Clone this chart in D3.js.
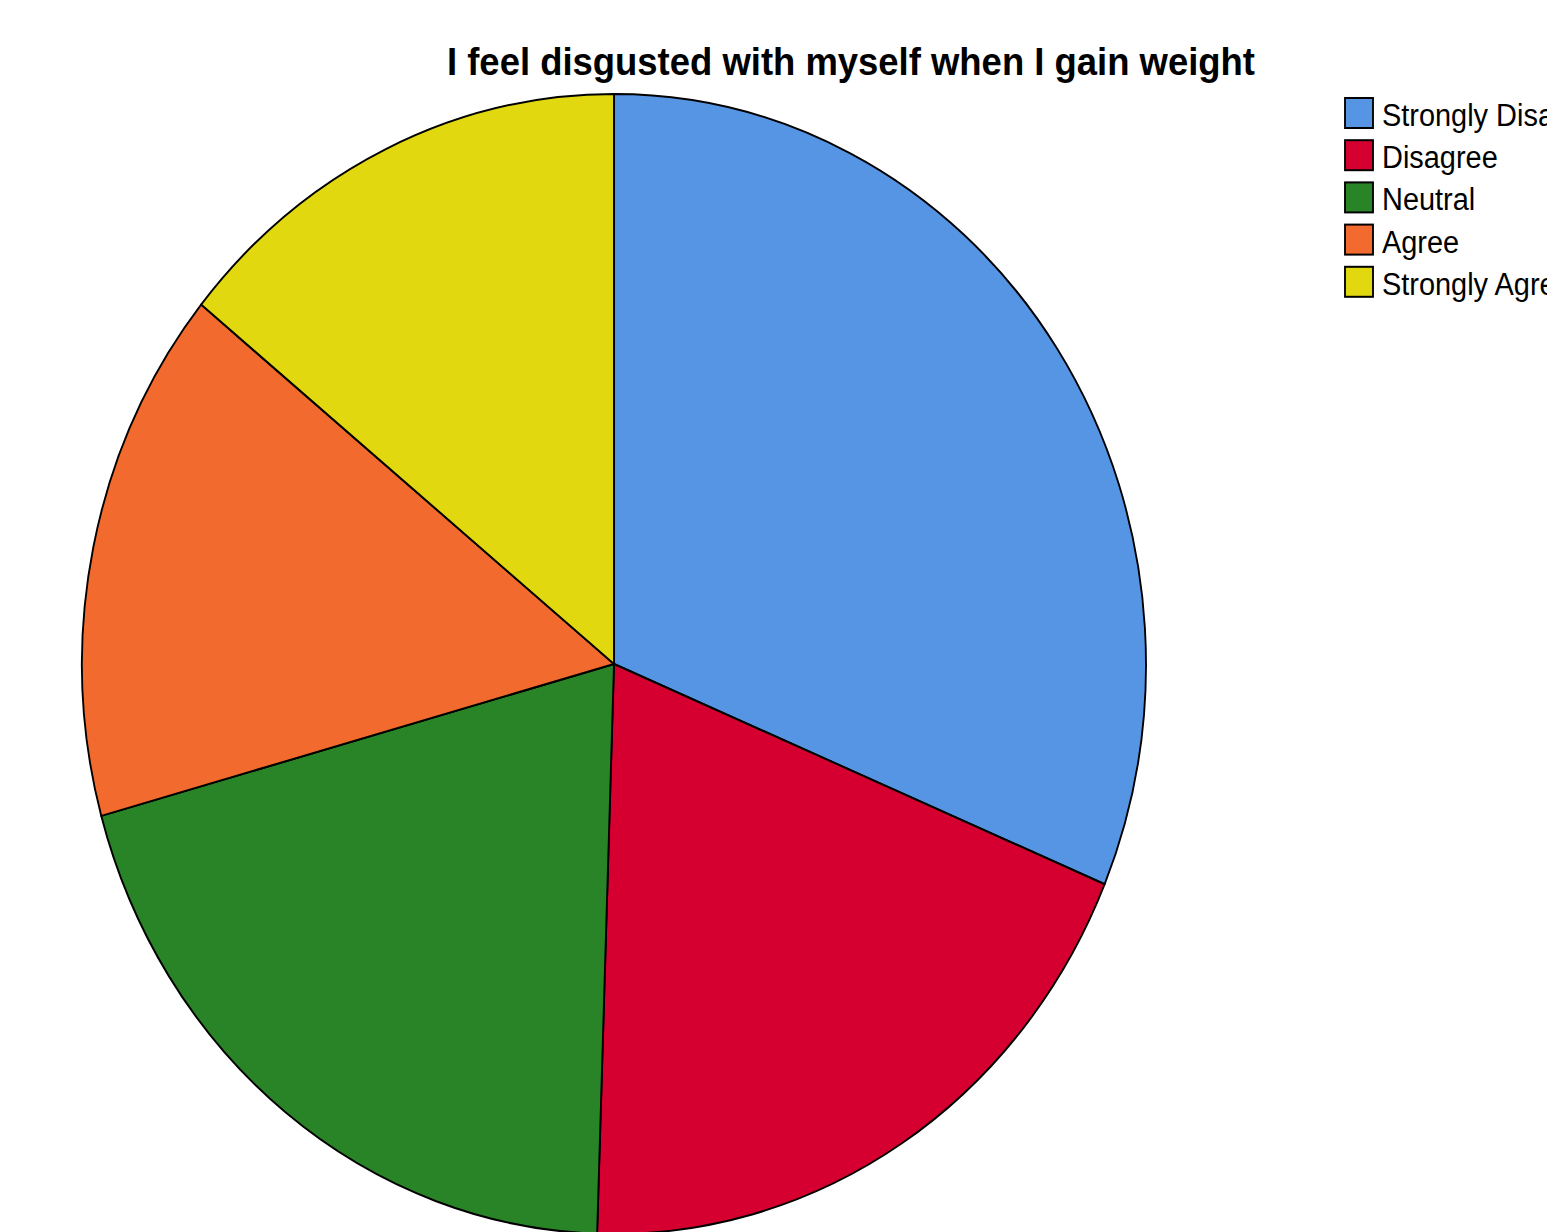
<!DOCTYPE html>
<html>
<head>
<meta charset="utf-8">
<script src="https://cdn.jsdelivr.net/npm/d3@7/dist/d3.min.js"></script>
<style>
  html, body { margin: 0; padding: 0; background: #fff; overflow: hidden; }
  svg { display: block; }
</style>
</head>
<body>
<svg id="chart" width="1547" height="1232"></svg>
<script>
// Response categories and counts
const categories = ["Strongly Disagree", "Disagree", "Neutral", "Agree", "Strongly Agree"];
const counts = [31, 19, 20, 15, 14];
const colors = ["#5595e3", "#d5002f", "#298428", "#f26a2d", "#e2d80f"];
const title = "I feel disgusted with myself when I gain weight";

const svg = d3.select("#chart");
const sx = 0.9333; // horizontal squeeze of the whole chart area

const g = svg.append("g").attr("transform", `scale(${sx},1)`);

// Title
g.append("text")
  .attr("x", 851 / sx)
  .attr("y", 75)
  .attr("text-anchor", "middle")
  .attr("font-family", "Liberation Sans, Arial, sans-serif")
  .attr("font-weight", "bold")
  .attr("font-size", 38)
  .attr("textLength", 808 / sx)
  .attr("lengthAdjust", "spacingAndGlyphs")
  .attr("fill", "#000")
  .text(title);

// Pie
const cx = 614 / sx, cy = 664, r = 570;
const pie = d3.pie().sort(null).value(d => d);
const arc = d3.arc().innerRadius(0).outerRadius(r);

g.append("g")
  .attr("transform", `translate(${cx},${cy})`)
  .selectAll("path")
  .data(pie(counts))
  .join("path")
  .attr("d", arc)
  .attr("fill", (d, i) => colors[i])
  .attr("stroke", "#000")
  .attr("stroke-width", 2)
  .attr("stroke-linejoin", "round");

// Legend
const legend = g.append("g").attr("transform", `translate(${1345 / sx},98)`);
const rows = legend.selectAll("g")
  .data(categories)
  .join("g")
  .attr("transform", (d, i) => `translate(0,${i * 42.2})`);

rows.append("rect")
  .attr("x", 0).attr("y", 0)
  .attr("width", 28 / sx).attr("height", 30)
  .attr("fill", (d, i) => colors[i])
  .attr("stroke", "#000")
  .attr("stroke-width", 2);

rows.append("text")
  .attr("x", 37 / sx)
  .attr("y", 28)
  .attr("font-family", "Liberation Sans, Arial, sans-serif")
  .attr("font-size", 31)
  .attr("fill", "#000")
  .text(d => d);
</script>
</body>
</html>
